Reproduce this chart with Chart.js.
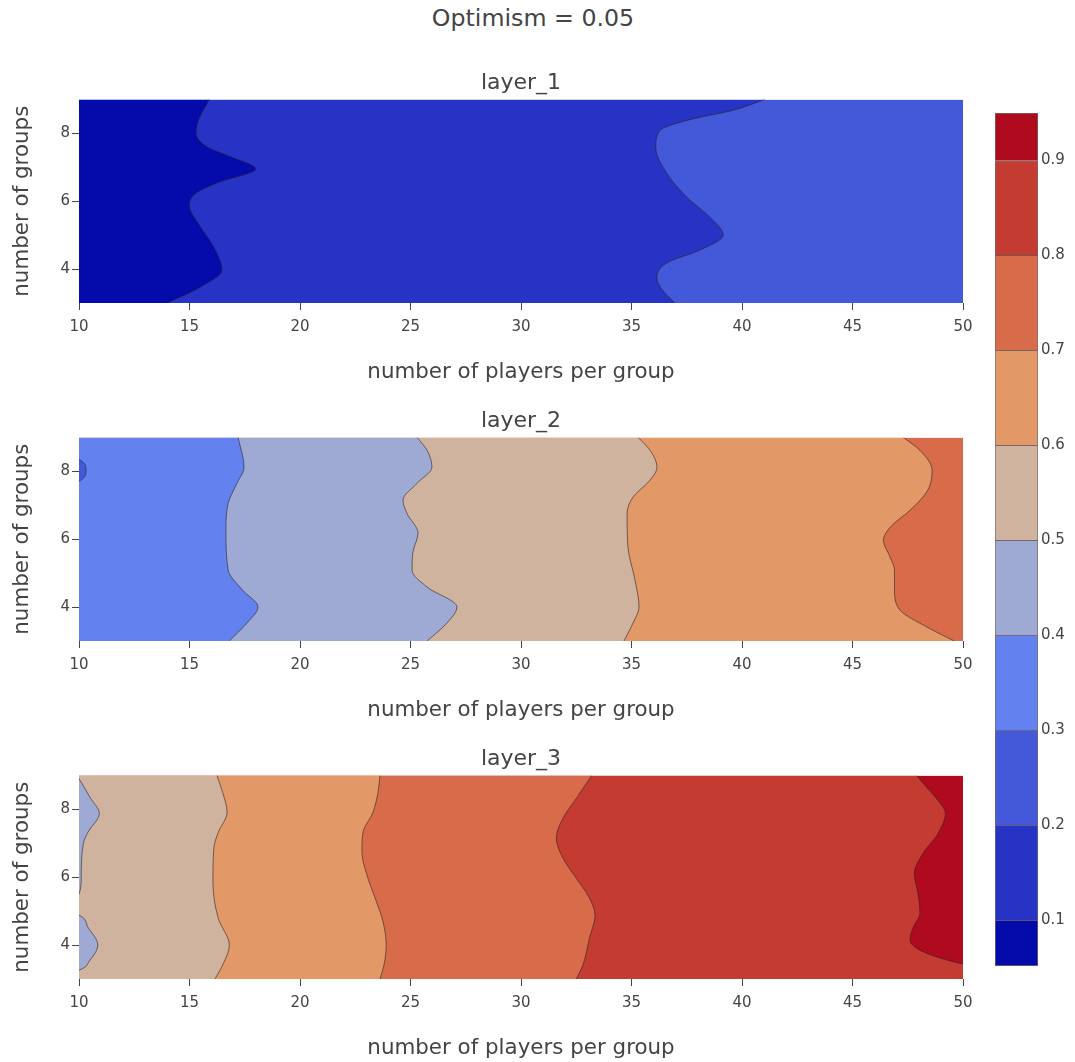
<!DOCTYPE html>
<html>
<head>
<meta charset="utf-8">
<script src="https://cdn.jsdelivr.net/npm/chart.js@4.4.0/dist/chart.umd.min.js"></script>
<style>
  html, body { margin: 0; padding: 0; background: #fff; overflow: hidden; }
  #wrap { position: relative; width: 1075px; height: 1062px; }
  #wrap canvas { position: absolute; }
  #mainTitle { position: absolute; left: 0; width: 1066px; top: 4px; line-height: 28px;
    text-align: center; font: 23.7px 'DejaVu Sans', sans-serif; color: #444; }
</style>
</head>
<body>
<div id="wrap">
  <div id="mainTitle">Optimism = 0.05</div>
  <canvas id="layer1" width="1042" height="336" style="left:0;top:59px"></canvas>
  <canvas id="layer2" width="1042" height="336" style="left:0;top:397px"></canvas>
  <canvas id="layer3" width="1042" height="336" style="left:0;top:735px"></canvas>
  <canvas id="cbar" width="85" height="920" style="left:990px;top:80px"></canvas>
</div>
<script>
// axes
const X_MIN = 10, X_MAX = 50;
const Y_MIN = 3, Y_MAX = 9;
const X_TICKS = [10, 15, 20, 25, 30, 35, 40, 45, 50];
const Y_TICKS = [4, 6, 8];
const X_TITLE = 'number of players per group';
const Y_TITLE = 'number of groups';

// contour levels and fill colours (one colour per band between levels)
const LEVEL_EDGES = [0.0515, 0.1, 0.2, 0.3, 0.4, 0.5, 0.6, 0.7, 0.8, 0.9, 0.95];
const LEVEL_COLORS = ['#050aab', '#2633c4', '#4459da', '#6382f0', '#9eaad4',
                      '#cfb39f', '#e39868', '#d86c4a', '#c43b32', '#b00a1f'];
const CBAR_TICKS = [0.1, 0.2, 0.3, 0.4, 0.5, 0.6, 0.7, 0.8, 0.9];

// contour lines, [players, groups], ordered by groups
const L1_C010 = [[14.0, 3.0], [15.5, 3.47], [16.47, 3.97], [16.1, 4.65], [15.5, 5.24], [15.0, 5.88],
  [15.3, 6.24], [16.3, 6.55], [18.0, 6.95], [16.9, 7.3], [15.8, 7.6], [15.3, 8.0], [15.4, 8.38], [15.9, 9.0]];
const L1_C020 = [[36.97, 3.0], [36.4, 3.38], [36.15, 3.76], [36.6, 4.18], [38.1, 4.56], [39.15, 5.0],
  [38.55, 5.53], [37.5, 6.12], [36.6, 6.82], [36.1, 7.59], [36.3, 8.09], [37.5, 8.38], [39.6, 8.68], [41.04, 9.0]];

const L2_C030 = [[9.6, 7.68], [10.0, 7.71], [10.32, 8.03], [10.0, 8.35], [9.6, 8.38]];
const L2_C040 = [[16.8, 3.0], [17.6, 3.53], [18.1, 4.0], [17.4, 4.5], [16.75, 5.09], [16.65, 6.26],
  [16.75, 7.06], [17.15, 7.65], [17.47, 8.12], [17.2, 9.0]];
const L2_C050 = [[25.75, 3.0], [26.65, 3.53], [27.1, 4.0], [25.75, 4.59], [25.07, 5.09], [25.1, 5.59],
  [25.34, 6.18], [24.84, 6.76], [24.66, 7.15], [25.3, 7.65], [25.97, 8.12], [25.75, 8.62], [25.3, 9.0]];
const L2_C060 = [[34.66, 3.0], [35.07, 3.53], [35.34, 4.0], [35.16, 4.79], [34.84, 5.76], [34.8, 6.76],
  [35.07, 7.24], [35.84, 7.74], [36.15, 8.12], [35.84, 8.62], [35.3, 9.0]];
const L2_C070 = [[49.6, 3.0], [48.37, 3.41], [47.15, 3.91], [46.9, 4.5], [46.9, 5.09], [46.7, 5.47],
  [46.4, 5.97], [46.7, 6.35], [47.6, 6.85], [48.4, 7.44], [48.6, 8.03], [48.05, 8.62], [47.3, 9.0]];

const L3_C050A = [[9.6, 3.2], [10.0, 3.26], [10.5, 3.56], [10.85, 4.0], [10.4, 4.53], [10.0, 4.88], [9.6, 4.95]];
const L3_C050B = [[9.6, 5.45], [10.0, 5.5], [10.1, 6.0], [10.2, 7.0], [10.4, 7.32], [10.92, 7.88],
  [10.5, 8.35], [10.05, 8.85], [9.8, 9.1]];
const L3_C060 = [[16.15, 3.0], [16.5, 3.41], [16.8, 4.0], [16.3, 4.79], [16.06, 5.85], [16.1, 6.85],
  [16.3, 7.32], [16.7, 7.91], [16.5, 8.5], [16.24, 9.0]];
const L3_C070 = [[23.62, 3.0], [23.8, 3.41], [23.9, 4.0], [23.76, 4.68], [23.4, 5.38], [23.03, 6.06],
  [22.8, 6.74], [22.85, 7.32], [23.3, 7.91], [23.53, 8.5], [23.62, 9.0]];
const L3_C080 = [[32.5, 3.0], [32.8, 3.41], [33.1, 4.21], [33.35, 4.88], [33.1, 5.38], [32.5, 5.97],
  [31.9, 6.56], [31.6, 7.15], [31.9, 7.74], [32.5, 8.32], [33.2, 9.0]];
const L3_C090 = [[53.0, 2.9], [51.0, 3.3], [50.0, 3.44], [49.27, 3.56], [48.05, 3.85], [47.6, 4.15],
  [47.75, 4.53], [48.05, 4.94], [47.96, 5.53], [47.8, 6.12], [48.2, 6.71], [48.87, 7.29], [49.2, 7.88],
  [48.87, 8.26], [48.35, 8.65], [47.9, 9.0]];

Chart.defaults.font.family = "'DejaVu Sans', sans-serif";
Chart.defaults.color = '#444';

const LINE_COLOR = 'rgba(45,35,35,0.6)';

function bandColor(level) {
    // fill left of a contour = band just below the level
    return LEVEL_COLORS[LEVEL_EDGES.indexOf(level) - 1];
}

function contourDataset(pts, color, stroke) {
    return {
        data: pts.map(([x, y]) => ({ x, y })),
        backgroundColor: color,
        borderColor: stroke ? LINE_COLOR : 'rgba(0,0,0,0)',
        borderWidth: stroke ? 1 : 0,
        fill: { value: 0 },
        pointRadius: 0,
        cubicInterpolationMode: 'monotone'
    };
}

function makeLayer(id, title, contours, topBand) {
    // first dataset is drawn on top, so list islands first then left to right
    const datasets = contours.map(c => contourDataset(c.pts, bandColor(c.level), true));
    datasets.push(contourDataset([[X_MAX, Y_MIN], [X_MAX, Y_MAX]], LEVEL_COLORS[topBand], false));

    new Chart(document.getElementById(id), {
        type: 'line',
        data: { datasets },
        options: {
            responsive: false,
            animation: false,
            indexAxis: 'y',
            layout: { padding: 0 },
            plugins: {
                legend: { display: false },
                tooltip: { enabled: false },
                title: {
                    display: true, text: title, color: '#444',
                    font: { size: 22, weight: 'normal' },
                    padding: { top: 11, bottom: 3 }
                }
            },
            scales: {
                x: {
                    type: 'linear', position: 'bottom', min: X_MIN, max: X_MAX,
                    afterBuildTicks: s => { s.ticks = X_TICKS.map(v => ({ value: v })); },
                    afterFit: s => { s.height = 92; },
                    grid: { drawOnChartArea: false, drawTicks: true, tickLength: 7, color: '#444' },
                    border: { display: false },
                    ticks: { font: { size: 15 }, padding: 8, maxRotation: 0 },
                    title: { display: true, text: X_TITLE, font: { size: 21.4 }, padding: { top: 0, bottom: 10 } }
                },
                y: {
                    type: 'linear', position: 'left', min: Y_MIN, max: Y_MAX,
                    afterBuildTicks: s => { s.ticks = Y_TICKS.map(v => ({ value: v })); },
                    afterFit: s => { s.width = 79; },
                    grid: { drawOnChartArea: false, drawTicks: true, tickLength: 7, color: '#444' },
                    border: { display: false },
                    ticks: { font: { size: 15 }, padding: 2 },
                    title: { display: true, text: Y_TITLE, font: { size: 21.4 }, padding: { top: 10, bottom: 0 } }
                },
                // empty right gutter so the subplot title centres over the plot
                gutter: {
                    type: 'linear', position: 'right', axis: 'y', min: Y_MIN, max: Y_MAX,
                    afterFit: s => { s.width = 79; },
                    grid: { display: false, drawTicks: false },
                    border: { display: false },
                    ticks: { display: false }
                }
            }
        }
    });
}

makeLayer('layer1', 'layer_1', [
    { level: 0.1, pts: L1_C010 },
    { level: 0.2, pts: L1_C020 }
], 2);

makeLayer('layer2', 'layer_2', [
    { level: 0.3, pts: L2_C030 },
    { level: 0.4, pts: L2_C040 },
    { level: 0.5, pts: L2_C050 },
    { level: 0.6, pts: L2_C060 },
    { level: 0.7, pts: L2_C070 }
], 7);

makeLayer('layer3', 'layer_3', [
    { level: 0.5, pts: L3_C050A },
    { level: 0.5, pts: L3_C050B },
    { level: 0.6, pts: L3_C060 },
    { level: 0.7, pts: L3_C070 },
    { level: 0.8, pts: L3_C080 },
    { level: 0.9, pts: L3_C090 }
], 9);

// colour bar: one floating bar per band
const cbarSets = LEVEL_COLORS.map((col, i) => ({
    data: [[LEVEL_EDGES[i], LEVEL_EDGES[i + 1]]],
    backgroundColor: col,
    borderColor: 'rgba(60,45,45,0.7)',
    borderWidth: 1,
    borderSkipped: i === 0 ? false : 'bottom',
    barPercentage: 1,
    categoryPercentage: 1,
    grouped: false
}));

new Chart(document.getElementById('cbar'), {
    type: 'bar',
    data: { labels: [''], datasets: cbarSets },
    options: {
        responsive: false,
        animation: false,
        layout: { padding: { left: 5, right: 0, top: 33, bottom: 34 } },
        plugins: { legend: { display: false }, tooltip: { enabled: false } },
        scales: {
            x: { display: false },
            y: {
                position: 'right', min: LEVEL_EDGES[0], max: LEVEL_EDGES[LEVEL_EDGES.length - 1],
                afterBuildTicks: s => { s.ticks = CBAR_TICKS.map(v => ({ value: v })); },
                afterFit: s => { s.width = 37; },
                grid: { display: false, drawTicks: false },
                border: { display: false },
                ticks: { font: { size: 15 }, padding: 3, callback: v => Number(v).toFixed(1) }
            }
        }
    }
});
</script>
</body>
</html>
